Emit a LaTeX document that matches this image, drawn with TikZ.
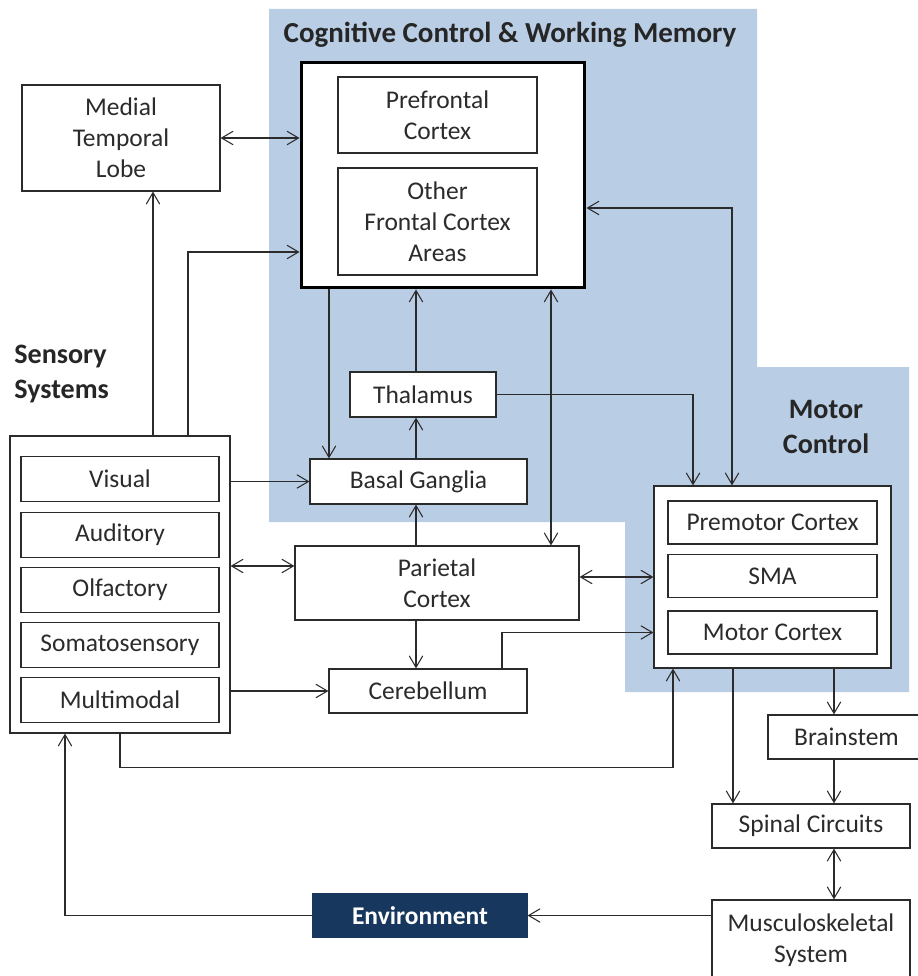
\documentclass[tikz,border=0pt]{standalone}
\usepackage{fontspec}
\setmainfont{Carlito}
\usetikzlibrary{arrows.meta}
\usetikzlibrary{positioning}
\definecolor{paleblue}{HTML}{B9CDE5}
\definecolor{navy}{HTML}{17375E}
\definecolor{ink}{HTML}{2B2B2B}

\begin{document}
\begin{tikzpicture}[x=0.02cm,y=-0.02cm,
  box/.style={draw=ink,fill=white,line width=0.7pt,text=ink,align=center,inner sep=0pt,font=\fontsize{14.5}{17.6}\selectfont},
  arr/.style={draw=ink,line width=0.6pt,-{Straight Barb[length=2.3mm,width=2.7mm]}},
  darr/.style={draw=ink,line width=0.6pt,{Straight Barb[length=2.3mm,width=2.7mm]}-{Straight Barb[length=2.3mm,width=2.7mm]}},
  head/.style={font=\fontsize{16}{19.6}\selectfont\bfseries,text=black!85,align=center,inner sep=0pt}]
\useasboundingbox (0,0) rectangle (918,976);
\fill[paleblue] (269,9) -- (757,9) -- (757,367) -- (909,367) -- (909,692) -- (625,692) -- (625,522) -- (269,522) -- cycle;

\node[head,font=\fontsize{16.5}{19.6}\selectfont\bfseries] (cctitle) at (510,35) {Cognitive Control \& Working Memory};
\node[head,align=left,anchor=west] (senslabel) at (14,374) {Sensory\\Systems};
\node[head] (motorlabel) at (826,427) {Motor\\Control};

\node[box,minimum width=3.96cm,minimum height=2.12cm] (mtl) at (121,138) {Medial\\Temporal\\Lobe};
\node[box,line width=1.7pt,draw=black,minimum width=5.68cm,minimum height=4.52cm] (frontal) at (443,175) {};
\node[box,minimum width=3.98cm,minimum height=1.52cm] (pfc) at (437.5,115) {Prefrontal\\Cortex};
\node[box,minimum width=3.98cm,minimum height=2.14cm] (ofc) at (437.5,221.5) {Other\\Frontal Cortex\\Areas};
\node[box,minimum width=2.92cm,minimum height=0.9cm] (thal) at (423,394.5) {Thalamus};
\node[box,minimum width=4.34cm,minimum height=0.9cm] (bg) at (418.5,481.5) {Basal Ganglia};
\node[box,minimum width=5.68cm,minimum height=1.48cm] (par) at (437,583) {Parietal\\Cortex};
\node[box,minimum width=3.96cm,minimum height=0.88cm] (cer) at (428,691) {Cerebellum};

\node[box,minimum width=4.4cm,minimum height=5.94cm] (sens) at (120,584.5) {};
\foreach \y/\name/\txt in {479/vis/Visual,535/aud/Auditory,590/olf/Olfactory,645/som/Somatosensory,700/mm/Multimodal}
  \node[box,minimum width=3.96cm,minimum height=0.9cm] (\name) at (120,\y) {\txt};

\node[box,minimum width=4.74cm,minimum height=3.64cm] (motor) at (772.5,577) {};
\node[box,minimum width=4.18cm,minimum height=0.86cm] (pmc) at (772.5,522.5) {Premotor Cortex};
\node[box,minimum width=4.18cm,minimum height=0.86cm] (sma) at (772.5,576) {SMA};
\node[box,minimum width=4.18cm,minimum height=0.86cm] (mc) at (772.5,632.5) {Motor Cortex};

\node[box,minimum width=3.14cm,minimum height=0.88cm] (bs) at (846.5,737) {Brainstem};
\node[box,minimum width=3.96cm,minimum height=0.88cm] (spinal) at (811,826) {Spinal Circuits};
\node[box,minimum width=3.96cm,minimum height=1.6cm] (musc) at (811,940) {Musculoskeletal\\System};
\node[box,fill=navy,draw=navy,text=white,font=\fontsize{14.5}{17.6}\selectfont\bfseries,minimum width=4.28cm,minimum height=0.86cm] (env) at (420,915.5) {Environment};

\coordinate (colA) at (329,0);
\coordinate (colB) at (416,0);
\coordinate (colC) at (551,0);
\coordinate (colD) at (834,0);

\draw[darr] (mtl.east) -- (mtl.east -| frontal.west);
\draw[arr] (sens.north -| 153,0) -- (mtl.south -| 153,0);
\draw[arr] (sens.north -| 188,0) |- (frontal.west |- 0,252);
\draw[arr] (frontal.south -| colA) -- (bg.north -| colA);
\draw[arr] (thal.north -| colB) -- (frontal.south -| colB);
\draw[arr] (bg.north -| colB) -- (thal.south -| colB);
\draw[arr] (par.north -| colB) -- (bg.south -| colB);
\draw[arr] (par.south -| colB) -- (cer.north -| colB);
\draw[darr] (frontal.south -| colC) -- (par.north -| colC);
\draw[darr] (frontal.east |- 0,208) -| (motor.north -| 732,0);
\draw[arr] (thal.east) -| (motor.north -| 693,0);
\draw[arr] (sens.east |- bg.west) -- (bg.west);
\draw[darr] (sens.east |- 0,566) -- (par.west |- 0,566);
\draw[darr] (par.east |- motor.west) -- (motor.west);
\draw[arr] (sens.east |- cer.west) -- (cer.west);
\draw[arr] (cer.north -| 502,0) |- (motor.west |- mc.west);
\draw[arr] (sens.south) -- ++(0,34) -| (motor.south -| 673,0);

\draw[arr] (motor.south -| colD) -- (bs.north -| colD);
\draw[arr] (motor.south -| 733,0) -- (spinal.north -| 733,0);
\draw[arr] (bs.south -| colD) -- (spinal.north -| colD);
\draw[darr] (spinal.south -| colD) -- (musc.north -| colD);
\draw[arr] (musc.west |- env.east) -- (env.east);
\draw[arr] (env.west) -| (sens.south -| 65,0);

\end{tikzpicture}
\end{document}
